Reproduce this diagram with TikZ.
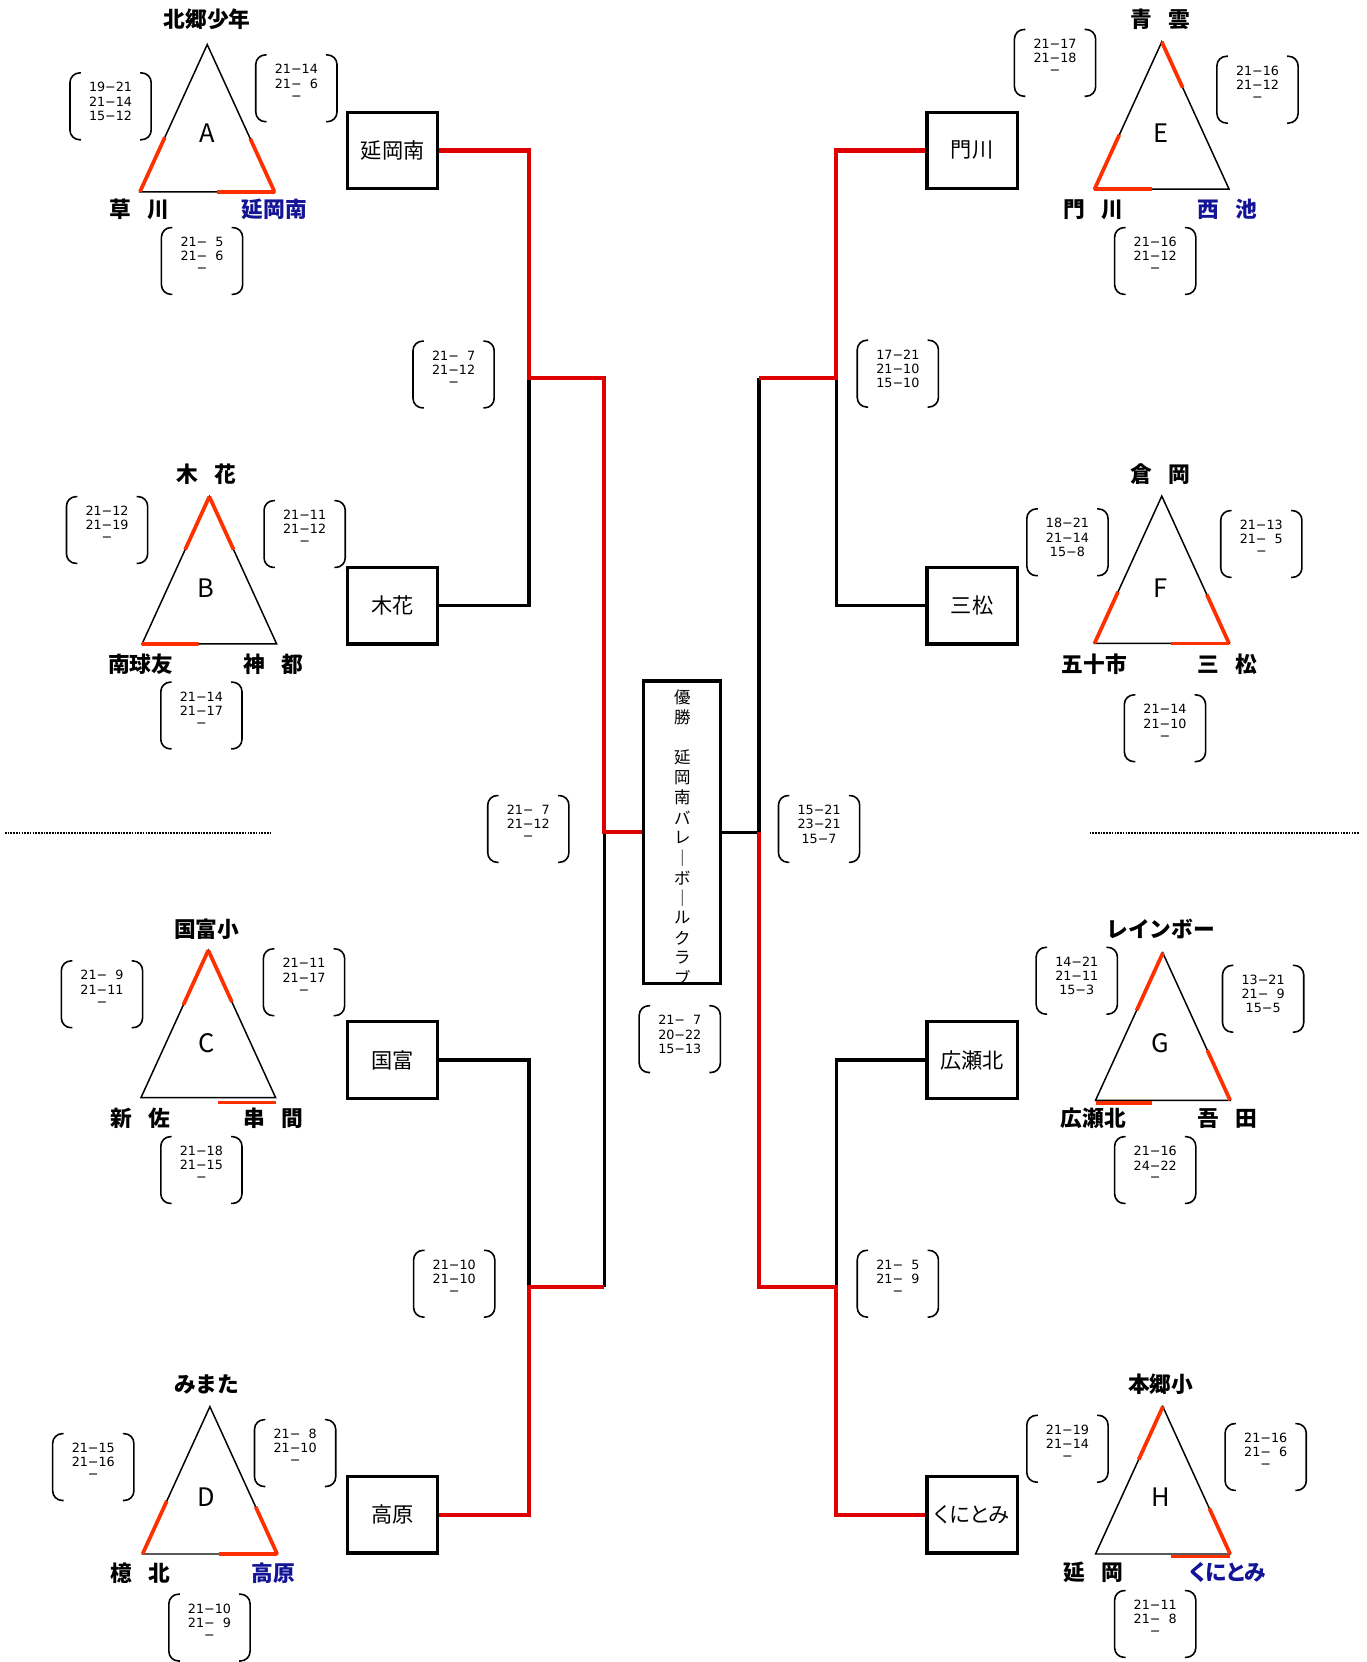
\documentclass[tikz,border=0pt]{standalone}
\usepackage{fontspec}
\setmainfont{Noto Sans CJK JP}
\newfontfamily\jpprop{Noto Sans CJK JP}[RawFeature=+palt]
\newfontfamily\scfont{DejaVu Sans}
\usetikzlibrary{calc}
\definecolor{bred}{RGB}{222,0,0}
\definecolor{tred}{RGB}{255,48,0}
\definecolor{lblue}{RGB}{20,20,150}
\tikzset{
  teambox/.style={draw, line width=3, minimum width=85, minimum height=72, inner sep=0, font=\fontsize{20}{20}\selectfont},
  champbox/.style={draw, line width=3, minimum width=73, minimum height=285, inner sep=0},
  champchar/.style={inner sep=0, font=\fontsize{15.5}{15.5}\selectfont},
  winline/.style={draw=bred, line width=4},
  loseline/.style={draw=black, line width=3},
  tri/.style={draw=black, line width=1.4},
  trired/.style={draw=tred, line width=3.5},
  grplab/.style={font=\fontsize{20.5}{20.5}\selectfont\bfseries, inner sep=0},
  winlab/.style={grplab, text=lblue},
  grpletter/.style={font=\fontsize{24}{24}\selectfont, inner sep=0},
  scoreln/.style={font=\scfont\fontsize{12}{12}\selectfont, inner sep=0},
  paren/.style={draw=black, line width=1.5, rounded corners=9},
  dotline/.style={draw=black, line width=1.6, densely dotted},
}
% triangle: name, apex x, apex y
\newcommand\grouptri[3]{%
  \coordinate (#1t) at (#2,#3);
  \coordinate (#1l) at ($(#1t)+(-63.5,139)$);
  \coordinate (#1r) at ($(#1t)+(63.5,139)$);
  \draw[tri] (#1t) -- (#1l) -- (#1r) -- cycle;
}
% score: name, cx, cy, line1, line2, line3
\newcommand\scorebox[6]{%
  \coordinate (#1) at (#2,#3);
  \draw[paren] ($(#1)+(-28,-31.5)$) -- ($(#1)+(-38.3,-31.5)$) -- ($(#1)+(-38.3,31.5)$) -- ($(#1)+(-28,31.5)$);
  \draw[paren] ($(#1)+(28,-31.5)$) -- ($(#1)+(38.3,-31.5)$) -- ($(#1)+(38.3,31.5)$) -- ($(#1)+(28,31.5)$);
  \node[scoreln] (#1a) at ($(#1)+(0,-18)$) {#4};
  \node[scoreln] (#1b) at ($(#1)+(0,-4.5)$) {#5};
  \node[scoreln] (#1c) at ($(#1)+(0,9)$) {#6};
}
\newcommand\dsp{\phantom{0}}
\newcommand\lgap{\hspace{0.75em}}
\begin{document}
\begin{tikzpicture}[x=1pt,y=-1pt]
\useasboundingbox[fill=white] (0,0) rectangle (1288.7,1567.9);

% ---------- team boxes ----------
\node[teambox] (nobeminami) at (370.5,142) {延岡南};
\node[teambox] (kibana) at (370.5,571.5) {木花};
\node[teambox] (kunitomi) at (370.5,1000) {国富};
\node[teambox] (takaharu) at (370.5,1429) {高原};
\node[teambox] (kadogawa) at (917,142) {門川};
\node[teambox] (mimatsu) at (917,571.5) {三松};
\node[teambox] (hirosekita) at (917,1000) {広瀬北};
\node[teambox] (kunitomiR) at (917,1429) {\jpprop くにとみ};

% ---------- champion box ----------
\coordinate (champc) at (643.5,785);
\begin{scope}
  \clip (607,642.5) rectangle (680,927.5);
  \foreach \i/\ch in {0/優,1/勝,3/延,4/岡,5/南,6/バ,7/レ,8/｜,9/ボ,10/｜,11/ル,12/ク,13/ラ,14/ブ}
    \node[champchar] (ch\i) at (643.8,{658+18.9*\i}) {\ch};
\end{scope}
\node[champbox] (champ) at (champc) {};

% ---------- bracket junctions ----------
\coordinate (jUL) at (499,356.5);
\coordinate (jUL2) at (570,356.5);
\coordinate (jL) at (570,785);
\coordinate (jLL) at (499,1214);
\coordinate (jLL2) at (570,1214);
\coordinate (jUR) at (789,356.5);
\coordinate (jUR2) at (716,356.5);
\coordinate (jR) at (716,785);
\coordinate (jLR) at (789,1214);
\coordinate (jLR2) at (716,1214);

% losers (black)
\draw[loseline] (kibana.east) -| (jUL);
\draw[loseline] (kunitomi.east) -| (jLL);
\draw[loseline] (jLL2) -- (jL);
\draw[loseline] (mimatsu.west) -| (jUR);
\draw[loseline] (hirosekita.west) -| (jLR);
\draw[loseline] (jUR2) -- (jR) -- (champ.east);
% winners (red)
\draw[winline] (nobeminami.east) -| (jUL) -- (jUL2) -- (jL) -- (champ.west);
\draw[winline] (takaharu.east) -| (jLL) -- (jLL2);
\draw[winline] (kadogawa.west) -| (jUR) -- (jUR2);
\draw[winline] (kunitomiR.west) -| (jLR) -- (jLR2) -- (jR);

% dotted separators
\coordinate (dl1) at (4.7,785.5); \coordinate (dl2) at (256,785.5);
\coordinate (dr1) at (1028,785.5); \coordinate (dr2) at (1282,785.5);
\draw[dotline] (dl1) -- (dl2);
\draw[dotline] (dr1) -- (dr2);

% ---------- groups ----------
% A
\grouptri{A}{195.5}{42}
\draw[trired] (Al) -- ($(Al)!0.37!(At)$);
\draw[trired] (Ar) -- ($(Ar)!0.36!(At)$);
\draw[trired] (Ar) -- ($(Ar)!0.43!(Al)$);
\node[grpletter] (An) at (195.4,125.8) {A};
\node[grplab] (Atop) at (195.5,18.2) {北郷少年};
\node[grplab] (Abl) at (131.5,197.5) {草\lgap 川};
\node[winlab] (Abr) at (259,197.5) {延岡南};
\scorebox{sAl}{104.3}{100.3}{19−21}{21−14}{15−12}
\scorebox{sAr}{279.6}{83.3}{21−14}{21−\dsp6}{−}
\scorebox{sAb}{190.6}{246.2}{21−\dsp5}{21−\dsp6}{−}

% B
\grouptri{B}{197.5}{468.5}
\draw[trired] (Bt) -- ($(Bt)!0.36!(Bl)$);
\draw[trired] (Bt) -- ($(Bt)!0.36!(Br)$);
\draw[trired] (Bl) -- ($(Bl)!0.42!(Br)$);
\node[grpletter] (Bn) at (194.6,555) {B};
\node[grplab] (Btop) at (195,447.2) {木\lgap 花};
\node[grplab] (Bbl) at (132.7,626.4) {南球友};
\node[grplab] (Bbr) at (257.7,626.4) {神\lgap 都};
\scorebox{sBl}{101}{500}{21−12}{21−19}{−}
\scorebox{sBr}{287.4}{503.8}{21−11}{21−12}{−}
\scorebox{sBb}{190}{675}{21−14}{21−17}{−}

% C
\grouptri{C}{196.5}{896.5}
\draw[trired] (Ct) -- ($(Ct)!0.37!(Cl)$);
\draw[trired] (Ct) -- ($(Ct)!0.35!(Cr)$);
\draw[trired] ($(Cr)+(0,4.5)$) -- ($(Cr)!0.43!(Cl)+(0,4.5)$);
\node[grpletter] (Cn) at (195,983.7) {C};
\node[grplab] (Ctop) at (195,876.7) {国富小};
\node[grplab] (Cbl) at (132,1055) {新\lgap 佐};
\node[grplab] (Cbr) at (257.7,1055) {串\lgap 間};
\scorebox{sCl}{96.2}{938}{21−\dsp9}{21−11}{−}
\scorebox{sCr}{286.8}{926.6}{21−11}{21−17}{−}
\scorebox{sCb}{190}{1103.8}{21−18}{21−15}{−}

% D
\grouptri{D}{198}{1327}
\draw[trired] (Dl) -- ($(Dl)!0.36!(Dt)$);
\draw[trired] (Dr) -- ($(Dr)!0.32!(Dt)$);
\draw[trired] (Dr) -- ($(Dr)!0.43!(Dl)$);
\node[grpletter] (Dn) at (195,1412.6) {D};
\node[grplab] (Dtop) at (195,1305.7) {みまた};
\node[grplab] (Dbl) at (132,1483.7) {檍\lgap 北};
\node[winlab] (Dbr) at (258,1483.7) {高原};
\scorebox{sDl}{88}{1384}{21−15}{21−16}{−}
\scorebox{sDr}{278.4}{1370.8}{21−\dsp8}{21−10}{−}
\scorebox{sDb}{197.6}{1535.4}{21−10}{21−\dsp9}{−}

% E
\grouptri{E}{1096}{39.5}
\draw[trired] (Et) -- ($(Et)!0.31!(Er)$);
\draw[trired] (El) -- ($(El)!0.37!(Et)$);
\draw[trired] (El) -- ($(El)!0.43!(Er)$);
\node[grpletter] (En) at (1095,125.8) {E};
\node[grplab] (Etop) at (1095,18.2) {青\lgap 雲};
\node[grplab] (Ebl) at (1031.5,197.5) {門\lgap 川};
\node[winlab] (Ebr) at (1158,197.5) {西\lgap 池};
\scorebox{sEl}{995.3}{59.3}{21−17}{21−18}{−}
\scorebox{sEr}{1186.3}{84.6}{21−16}{21−12}{−}
\scorebox{sEb}{1089.8}{246.2}{21−16}{21−12}{−}

% F
\grouptri{F}{1096}{468}
\draw[trired] (Fl) -- ($(Fl)!0.35!(Ft)$);
\draw[trired] (Fr) -- ($(Fr)!0.33!(Ft)$);
\draw[trired] (Fr) -- ($(Fr)!0.43!(Fl)$);
\node[grpletter] (Fn) at (1095,555) {F};
\node[grplab] (Ftop) at (1095,447.2) {倉\lgap 岡};
\node[grplab] (Fbl) at (1032.3,626.4) {五十市};
\node[grplab] (Fbr) at (1158,626.4) {三\lgap 松};
\scorebox{sFl}{1007}{511.6}{18−21}{21−14}{15−8}
\scorebox{sFr}{1189.9}{513.2}{21−13}{21−\dsp5}{−}
\scorebox{sFb}{1099}{687}{21−14}{21−10}{−}

% G
\grouptri{G}{1097}{899}
\draw[trired] (Gt) -- ($(Gt)!0.39!(Gl)$);
\draw[trired] (Gr) -- ($(Gr)!0.34!(Gt)$);
\draw[trired] ($(Gl)+(0,2.5)$) -- ($(Gl)!0.42!(Gr)+(0,2.5)$);
\node[grpletter] (Gn) at (1095,983.7) {G};
\node[grplab] (Gtop) at (1095,876.7) {レインボー};
\node[grplab] (Gbl) at (1031.5,1055) {広瀬北};
\node[grplab] (Gbr) at (1158,1055) {吾\lgap 田};
\scorebox{sGl}{1015.8}{925.2}{14−21}{21−11}{15−3}
\scorebox{sGr}{1191.6}{942.2}{13−21}{21−\dsp9}{15−5}
\scorebox{sGb}{1089.8}{1103.8}{21−16}{24−22}{−}

% H
\grouptri{H}{1097}{1327}
\draw[trired] (Ht) -- ($(Ht)!0.36!(Hl)$);
\draw[trired] (Hr) -- ($(Hr)!0.31!(Ht)$);
\draw[trired] ($(Hr)+(0,2.3)$) -- ($(Hr)!0.44!(Hl)+(0,2.3)$);
\node[grpletter] (Hn) at (1095,1412.6) {H};
\node[grplab] (Htop) at (1095,1305.7) {本郷小};
\node[grplab] (Hbl) at (1031.5,1483.7) {延\lgap 岡};
\node[winlab] (Hbr) at (1158,1483.7) {\jpprop\bfseries くにとみ};
\scorebox{sHl}{1007}{1366.7}{21−19}{21−14}{−}
\scorebox{sHr}{1194}{1374.5}{21−16}{21−\dsp6}{−}
\scorebox{sHb}{1089.8}{1532}{21−11}{21−\dsp8}{−}

% ---------- bracket-round scores ----------
\scorebox{sUL}{427.9}{353.3}{21−\dsp7}{21−12}{−}
\scorebox{sUR}{847}{352.5}{17−21}{21−10}{15−10}
\scorebox{sLL}{428.5}{1211}{21−10}{21−10}{−}
\scorebox{sLR}{847}{1211}{21−\dsp5}{21−\dsp9}{−}
\scorebox{sFL}{498.4}{782}{21−\dsp7}{21−12}{−}
\scorebox{sFR}{772.7}{782}{15−21}{23−21}{15−7}
\scorebox{sFC}{641.3}{980.3}{21−\dsp7}{20−22}{15−13}
\end{tikzpicture}
\end{document}
